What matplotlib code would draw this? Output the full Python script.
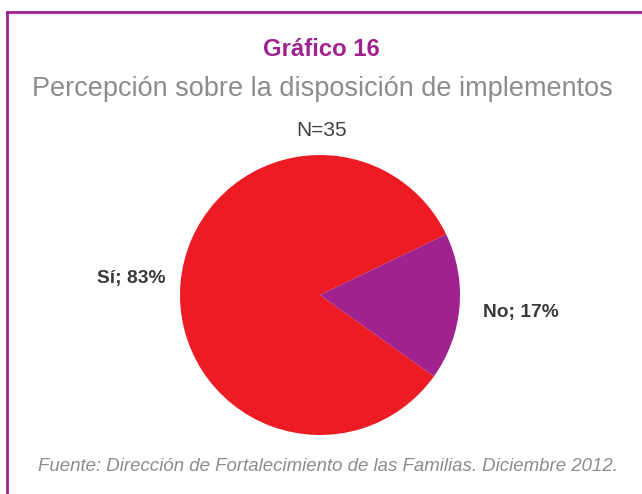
import matplotlib

matplotlib.use("Agg")
import matplotlib.pyplot as plt
import numpy as np
from matplotlib.lines import Line2D

plt.rcParams["font.family"] = ["Liberation Sans", "DejaVu Sans"]

categories = ["Sí", "No"]
shares = [83, 17]
label_texts = ["Sí; 83%", "No; 17%"]
slice_colors = ["#ED1C24", "#A0228E"]

title = "Gráfico 16"
subtitle = "Percepción sobre la disposición de implementos"
sample_note = "N=35"
source = "Fuente: Dirección de Fortalecimiento de las Familias. Diciembre 2012."

W, H = 642, 494
fig = plt.figure(figsize=(W / 100, H / 100), dpi=100)

# frame: left and top purple rules
fig.add_artist(Line2D([7 / W, 7 / W], [0, 1 - 12 / H], color="#A0228E",
                      linewidth=2.0, transform=fig.transFigure))
fig.add_artist(Line2D([7 / W, 1], [1 - 12 / H, 1 - 12 / H], color="#A0228E",
                      linewidth=2.0, transform=fig.transFigure))

# pie axes: centre (320, 295), radius 140 px
cx, cy, r = 320, 295, 140
pad = 1.05
ax = fig.add_axes([(cx - r * pad) / W, (H - cy - r * pad) / H,
                   2 * r * pad / W, 2 * r * pad / H])
wedges, texts = ax.pie(
    shares,
    labels=label_texts,
    colors=slice_colors,
    startangle=25.7,
    counterclock=True,
    labeldistance=1.4,
    textprops={"fontsize": 13.8, "fontweight": "bold", "color": "#3a3a3a"},
)
label_dist = [1.35, 1.44]
for wedge, text, dist in zip(wedges, texts, label_dist):
    mid = np.deg2rad((wedge.theta1 + wedge.theta2) / 2)
    text.set_position((dist * np.cos(mid), dist * np.sin(mid)))
    text.set_ha("center")
    text.set_va("center")
ax.set_xlim(-pad, pad)
ax.set_ylim(-pad, pad)
ax.set_aspect("equal")
ax.axis("off")

fig.text(321 / W, 1 - 49 / H, title, ha="center", va="center",
         fontsize=17.2, fontweight="bold", color="#A0228E")
fig.text(322 / W, 1 - 89 / H, subtitle, ha="center", va="center",
         fontsize=19.5, color="#8C8C8C")
fig.text(322 / W, 1 - 130 / H, sample_note, ha="center", va="center",
         fontsize=15, color="#404040")
fig.text(328 / W, 1 - 466 / H, source, ha="center", va="center",
         fontsize=13.4, style="italic", color="#8C8C8C")

fig.savefig("out.png", dpi=100, facecolor="white")
